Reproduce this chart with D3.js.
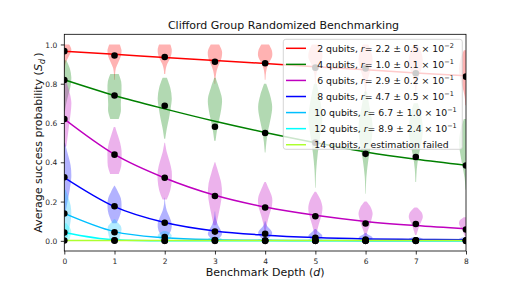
<!DOCTYPE html>
<html>
<head>
<meta charset="utf-8">
<script src="https://cdn.jsdelivr.net/npm/d3@7"></script>
<style>
  html, body { margin: 0; padding: 0; background: #fff; }
  svg { display: block; font-family: "DejaVu Sans", sans-serif; }
</style>
</head>
<body>
<div id="chart"></div>
<script>
// ---- data ----
const depths = [0, 1, 2, 3, 4, 5, 6, 7, 8];
const qubits = [2, 4, 6, 8, 10, 12, 14];
const rValues = ["2.2 ± 0.5", "1.0 ± 0.1", "2.9 ± 0.2", "4.7 ± 0.5", "6.7 ± 1.0", "8.9 ± 2.4", null];
const rExponents = ["−2", "−1", "−1", "−1", "−1", "−1", null];
const yTicks = [0, 0.2, 0.4, 0.6, 0.8, 1.0];

// mean success probability per depth (black dots)
const mean2 = [0.966, 0.944, 0.936, 0.912, 0.904, 0.882, 0.878, 0.853, 0.836];
const mean4 = [0.819, 0.740, 0.688, 0.581, 0.549, 0.500, 0.443, 0.427, 0.384];
const mean6 = [0.620, 0.439, 0.321, 0.228, 0.170, 0.125, 0.088, 0.086, 0.058];
const mean8 = [0.324, 0.176, 0.092, 0.047, 0.036, 0.016, 0.006, 0.003, 0.002];
const mean10 = [0.139, 0.044, 0.019, 0.004, 0.002, 0.001, 0.001, 0.001, 0.001];
const mean12 = [0.042, 0.003, 0.001, 0.001, 0.000, 0.000, 0.000, 0.000, 0.000];
const mean14 = [0.002, 0.001, 0.000, 0.000, 0.000, 0.000, 0.000, 0.000, 0.000];

// fitted decay curves, read at each depth
const fit2 = [0.966, 0.950, 0.934, 0.918, 0.903, 0.887, 0.871, 0.855, 0.840];
const fit4 = [0.820, 0.740, 0.672, 0.609, 0.552, 0.500, 0.452, 0.415, 0.385];
const fit6 = [0.620, 0.440, 0.320, 0.232, 0.172, 0.130, 0.099, 0.078, 0.062];
const fit8 = [0.322, 0.174, 0.093, 0.050, 0.029, 0.017, 0.010, 0.007, 0.006];
const fit10 = [0.140, 0.047, 0.016, 0.006, 0.003, 0.002, 0.001, 0.001, 0.001];
const fit12 = [0.043, 0.006, 0.001, 0.0005, 0.0003, 0.0003, 0.0003, 0.0003, 0.0003];
const fit14 = [0.002, 0.002, 0.002, 0.002, 0.002, 0.002, 0.002, 0.002, 0.002];

// violins: [min, max, relative widths from max down to min]
const violin2 = [
  [0.86, 1.0, [0.7, 1, 0.85, 0.5, 0.2, 0.08, 0.04]],
  [0.82, 1.0, [0.75, 1, 0.9, 0.55, 0.2, 0.08, 0.05]],
  [0.85, 1.0, [0.8, 1, 0.95, 0.7, 0.35, 0.15, 0.08]],
  [0.80, 1.0, [0.6, 1, 0.95, 0.6, 0.25, 0.1, 0.05]],
  [0.82, 1.0, [0.55, 0.95, 1, 0.6, 0.25, 0.1, 0.05]],
  [0.80, 1.0, [0.5, 0.9, 1, 0.6, 0.25, 0.1, 0.05]],
  [0.74, 1.0, [0.4, 0.85, 1, 0.7, 0.35, 0.12, 0.05]],
  [0.75, 1.0, [0.3, 0.8, 1, 0.8, 0.4, 0.15, 0.05]],
  [0.69, 0.97, [0.3, 0.8, 1, 0.85, 0.5, 0.2, 0.08]]
];
const violin4 = [
  [0.66, 0.92, [0.3, 0.8, 1, 0.9, 0.6, 0.3, 0.1]],
  [0.62, 0.85, [0.6, 0.95, 1, 0.95, 0.9, 0.9, 0.6]],
  [0.52, 0.83, [0.3, 0.8, 1, 0.85, 0.6, 0.3, 0.08]],
  [0.51, 0.83, [0.1, 0.6, 1, 0.9, 0.6, 0.3, 0.1]],
  [0.45, 0.80, [0.15, 0.7, 1, 0.8, 0.45, 0.2, 0.05]],
  [0.27, 0.80, [0.2, 0.7, 1, 0.7, 0.35, 0.12, 0.03]],
  [0.24, 0.76, [0.2, 0.6, 1, 0.8, 0.4, 0.12, 0.03]],
  [0.30, 0.70, [0.3, 0.8, 1, 0.8, 0.4, 0.15, 0.05]],
  [0.26, 0.62, [0.3, 0.8, 1, 0.8, 0.5, 0.2, 0.05]]
];
const violin6 = [
  [0.48, 0.82, [0.2, 0.7, 1, 0.9, 0.7, 0.5, 0.3]],
  [0.34, 0.58, [0.1, 0.45, 0.8, 1, 1, 0.95, 0.6]],
  [0.21, 0.50, [0.05, 0.3, 0.7, 1, 1, 0.8, 0.3]],
  [0.08, 0.40, [0.05, 0.5, 0.9, 1, 0.8, 0.5, 0.2]],
  [0.05, 0.30, [0.1, 0.6, 1, 0.95, 0.6, 0.3, 0.1]],
  [0.02, 0.25, [0.1, 0.7, 1, 0.9, 0.6, 0.3, 0.1]],
  [0.02, 0.20, [0.15, 0.75, 1, 0.85, 0.6, 0.3, 0.1]],
  [0.03, 0.17, [0.2, 0.8, 1, 0.8, 0.5, 0.3, 0.1]],
  [0.02, 0.12, [0.3, 0.9, 1, 0.8, 0.5, 0.3, 0.1]]
];
const violin8 = [
  [0.15, 0.50, [0.1, 0.5, 0.9, 1, 0.8, 0.5, 0.2]],
  [0.09, 0.28, [0.05, 0.5, 0.9, 1, 0.95, 0.7, 0.3]],
  [0.02, 0.22, [0.03, 0.1, 0.3, 0.7, 1, 0.9, 0.4]],
  [0.01, 0.15, [0.03, 0.08, 0.2, 0.45, 0.8, 1, 0.5]],
  [0.01, 0.10, [0.05, 0.15, 0.4, 0.8, 1, 0.8, 0.4]],
  [0.005, 0.06, [0.1, 0.3, 0.6, 0.9, 1, 0.8, 0.4]],
  [0.002, 0.04, [0.1, 0.3, 0.6, 0.9, 1, 0.8, 0.4]],
  [0.001, 0.02, [0.2, 0.5, 0.8, 1, 0.9, 0.6, 0.3]],
  [0.001, 0.02, [0.2, 0.5, 0.8, 1, 0.9, 0.6, 0.3]]
];
const violin10 = [
  [0.02, 0.26, [0.2, 0.6, 0.9, 1, 0.9, 0.7, 0.5]],
  [0.005, 0.11, [0.1, 0.5, 0.9, 1, 0.9, 0.8, 0.6]],
  [0.002, 0.05, [0.2, 0.6, 0.9, 1, 0.9, 0.7, 0.5]],
  [0.0, 0.02, [0.3, 0.8, 1, 0.8, 0.4]],
  [0.0, 0.01, [0.3, 0.8, 1, 0.8, 0.4]],
  [0.0, 0.01, [0.3, 0.8, 1, 0.8, 0.4]],
  [0.0, 0.01, [0.3, 0.8, 1, 0.8, 0.4]],
  [0.0, 0.01, [0.3, 0.8, 1, 0.8, 0.4]],
  [0.0, 0.01, [0.3, 0.8, 1, 0.8, 0.4]]
];
const violin12 = [
  [0.0, 0.09, [0.3, 0.6, 0.9, 1, 0.9, 0.8, 0.6]],
  [0.0, 0.015, [0.3, 0.8, 1, 0.8, 0.4]],
  [0.0, 0.005, [0.3, 0.8, 1, 0.8, 0.4]],
  [0.0, 0.005, [0.3, 0.8, 1, 0.8, 0.4]],
  [0.0, 0.005, [0.3, 0.8, 1, 0.8, 0.4]],
  [0.0, 0.005, [0.3, 0.8, 1, 0.8, 0.4]],
  [0.0, 0.005, [0.3, 0.8, 1, 0.8, 0.4]],
  [0.0, 0.005, [0.3, 0.8, 1, 0.8, 0.4]],
  [0.0, 0.005, [0.3, 0.8, 1, 0.8, 0.4]]
];
const violin14 = [
  [0.0, 0.004, [0.3, 0.8, 1, 0.8, 0.4]],
  [0.0, 0.004, [0.3, 0.8, 1, 0.8, 0.4]],
  [0.0, 0.004, [0.3, 0.8, 1, 0.8, 0.4]],
  [0.0, 0.004, [0.3, 0.8, 1, 0.8, 0.4]],
  [0.0, 0.004, [0.3, 0.8, 1, 0.8, 0.4]],
  [0.0, 0.004, [0.3, 0.8, 1, 0.8, 0.4]],
  [0.0, 0.004, [0.3, 0.8, 1, 0.8, 0.4]],
  [0.0, 0.004, [0.3, 0.8, 1, 0.8, 0.4]],
  [0.0, 0.004, [0.3, 0.8, 1, 0.8, 0.4]]
];

const means = [mean2, mean4, mean6, mean8, mean10, mean12, mean14];
const fits = [fit2, fit4, fit6, fit8, fit10, fit12, fit14];
const violins = [violin2, violin4, violin6, violin8, violin10, violin12, violin14];
const colors = ["#ff0000", "#008000", "#bf00bf", "#0000ff", "#00bfff", "#00ffff", "#adff2f"];

//#region Setup
const width = 518, height = 288;
const margin = { left: 64.3, top: 34.3, right: 518 - 466, bottom: 288 - 251 };

const svg = d3.select("#chart").append("svg")
  .attr("width", width)
  .attr("height", height);

const x = d3.scaleLinear().domain([0, 8]).range([margin.left, width - margin.right]);
const y = d3.scaleLinear().domain([-0.0517, 1.0517]).range([height - margin.bottom, margin.top]);

svg.append("clipPath").attr("id", "plot-clip")
  .append("rect")
  .attr("x", margin.left).attr("y", margin.top)
  .attr("width", width - margin.right - margin.left)
  .attr("height", height - margin.bottom - margin.top);

const plot = svg.append("g").attr("clip-path", "url(#plot-clip)");
//#endregion

//#region Violins
const halfWidth = x(0.14) - x(0);
const violinArea = (d) => d3.area()
  .y(p => y(p.v))
  .x0(p => x(d) - p.w * halfWidth)
  .x1(p => x(d) + p.w * halfWidth)
  .curve(d3.curveCatmullRom.alpha(0.5));

violins.forEach((series, s) => {
  series.forEach(([lo, hi, w], j) => {
    const pts = w.map((wk, k) => ({ v: hi - k * (hi - lo) / (w.length - 1), w: wk }));
    plot.append("path")
      .attr("d", violinArea(depths[j])(pts))
      .attr("fill", colors[s])
      .attr("fill-opacity", 0.3);
  });
});
//#endregion

//#region Fit lines and means
const line = d3.line()
  .x((v, i) => x(depths[i]))
  .y(v => y(v))
  .curve(d3.curveMonotoneX);

fits.forEach((f, s) => {
  plot.append("path")
    .attr("d", line(f))
    .attr("fill", "none")
    .attr("stroke", colors[s])
    .attr("stroke-width", 1.5);
});

means.forEach(m => {
  plot.append("g").selectAll("circle")
    .data(m)
    .enter()
    .append("circle")
    .attr("cx", (v, i) => x(depths[i]))
    .attr("cy", v => y(v))
    .attr("r", 3.3)
    .attr("fill", "black");
});
//#endregion

//#region Axes
const axisX = d3.axisBottom(x).tickValues(depths).tickFormat(d3.format("d")).tickSize(3.5).tickSizeOuter(0);
const axisY = d3.axisLeft(y).tickValues(yTicks).tickFormat(d3.format(".1f")).tickSize(3.5).tickSizeOuter(0);

const gx = svg.append("g")
  .attr("transform", `translate(0,${height - margin.bottom})`)
  .call(axisX);
const gy = svg.append("g")
  .attr("transform", `translate(${margin.left},0)`)
  .call(axisY);

[gx, gy].forEach(g => {
  g.select(".domain").remove();
  g.selectAll(".tick line").attr("stroke", "#000").attr("stroke-width", 0.8);
  g.selectAll(".tick text")
    .attr("fill", "#262626")
    .style("font-family", "DejaVu Sans")
    .style("font-size", "7.5px");
});
gx.selectAll(".tick text").attr("y", 7).attr("dy", "0.75em");
gy.selectAll(".tick text").attr("x", -7).attr("dy", "0.34em");

svg.append("rect")
  .attr("x", margin.left).attr("y", margin.top)
  .attr("width", width - margin.right - margin.left)
  .attr("height", height - margin.bottom - margin.top)
  .attr("fill", "none")
  .attr("stroke", "#000")
  .attr("stroke-width", 0.8);
//#endregion

//#region Titles
svg.append("text")
  .attr("x", 283.5).attr("y", 28.5)
  .attr("text-anchor", "middle")
  .style("font-size", "11px")
  .attr("fill", "#111")
  .text("Clifford Group Randomized Benchmarking");

const xl = svg.append("text")
  .attr("x", (margin.left + width - margin.right) / 2).attr("y", 275.5)
  .attr("text-anchor", "middle")
  .style("font-size", "11px")
  .attr("fill", "#111");
xl.append("tspan").text("Benchmark Depth (");
xl.append("tspan").style("font-style", "italic").text("d");
xl.append("tspan").text(")");

const yl = svg.append("text")
  .attr("transform", `translate(42,${(margin.top + height - margin.bottom) / 2}) rotate(-90)`)
  .attr("text-anchor", "middle")
  .style("font-size", "11px")
  .attr("fill", "#111");
yl.append("tspan").text("Average success probability (");
yl.append("tspan").style("font-style", "italic").text("S");
yl.append("tspan").style("font-style", "italic").style("font-size", "8px").attr("dy", 2.5).text("d");
yl.append("tspan").attr("dy", -2.5).text("\u2009)");
//#endregion

//#region Legend
const legend = svg.append("g").attr("id", "legend");
legend.append("rect")
  .attr("x", 283.3).attr("y", 39.3)
  .attr("width", 179).attr("height", 110)
  .attr("rx", 2.5)
  .attr("fill", "white").attr("fill-opacity", 0.8)
  .attr("stroke", "#cccccc").attr("stroke-width", 0.8);

qubits.forEach((q, i) => {
  const cy = 48.3 + i * 16.07;
  legend.append("line")
    .attr("x1", 286).attr("x2", 306)
    .attr("y1", cy).attr("y2", cy)
    .attr("stroke", colors[i]).attr("stroke-width", 1.5);
  const t = legend.append("text")
    .attr("x", 314.3).attr("y", cy + 3.4)
    .style("font-size", "9.3px")
    .attr("fill", "#111");
  t.append("tspan").text(`${q < 10 ? "\u00a0" : ""}${q} qubits, `);
  t.append("tspan").style("font-style", "italic").text("r");
  if (rValues[i]) {
    t.append("tspan").text(`= ${rValues[i]} × 10`);
    t.append("tspan").attr("dy", -3.6).style("font-size", "6.5px").text(rExponents[i]);
  } else {
    t.append("tspan").text(" estimation failed");
  }
});
//#endregion
</script>
</body>
</html>
